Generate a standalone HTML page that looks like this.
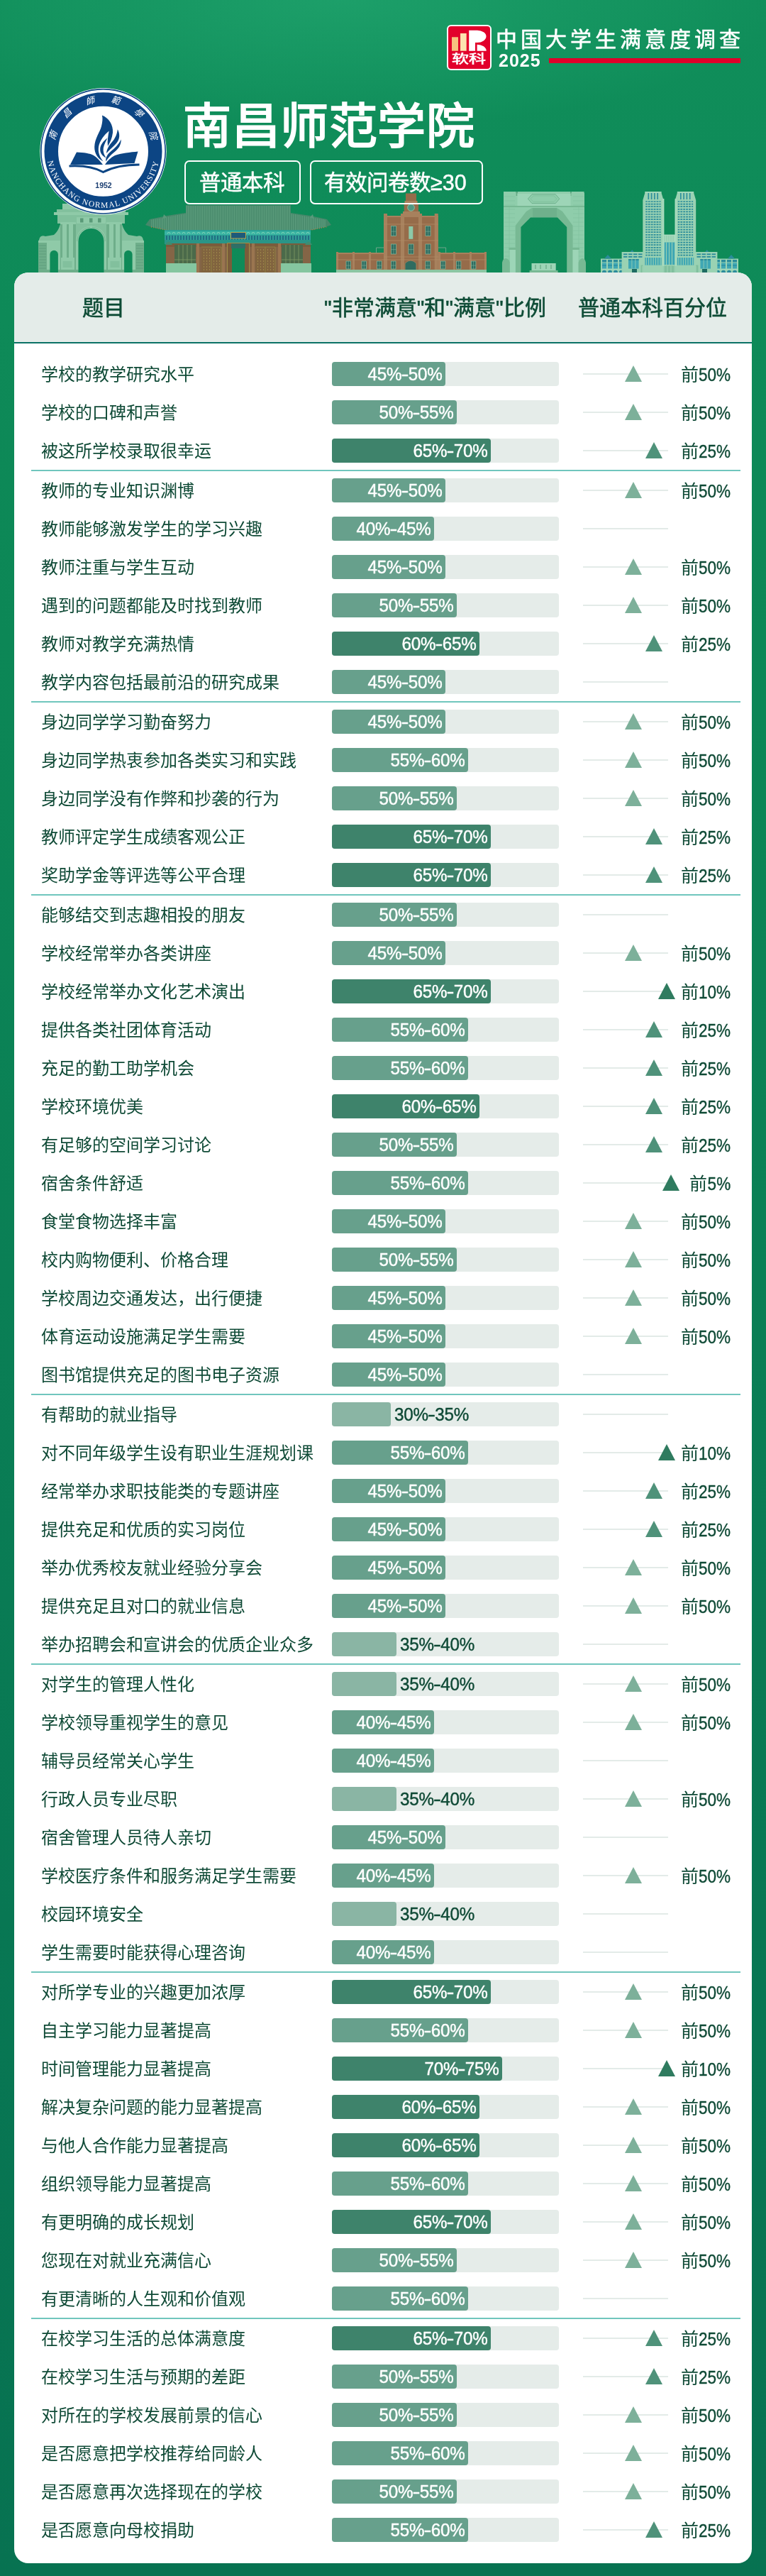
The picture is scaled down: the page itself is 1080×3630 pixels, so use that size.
<!DOCTYPE html>
<html lang="zh-CN"><head><meta charset="utf-8"><title>南昌师范学院</title>
<style>
*{margin:0;padding:0;box-sizing:border-box}
html,body{width:1080px;height:3630px;overflow:hidden}
.wrap{position:absolute;left:0;top:0;width:1080px;height:3630px;will-change:transform}
body{position:relative;font-family:"Liberation Sans",sans-serif;background:radial-gradient(ellipse 620px 180px at 480px 0px,rgba(44,180,124,0.45),rgba(44,180,124,0) 100%),linear-gradient(180deg,#108e5a 0px,#0e8a58 450px,#0c8756 900px,#0a7f55 1800px,#087753 2700px,#077251 3630px);}
.card{position:absolute;left:20px;top:384px;width:1040px;height:3228px;background:#fff;border-radius:20px;overflow:hidden}
.hd{position:absolute;left:20px;top:384px;width:1040px;height:98px;background:#e4ece9;border-radius:20px 20px 0 0}
.hdl{position:absolute;left:20px;top:482px;width:1040px;height:2px;background:#0b7266}
.ht{position:absolute;top:414px;font-size:30px;line-height:40px;font-weight:500;color:#0e4c36;-webkit-text-stroke:0.6px #0e4c36;white-space:nowrap}
.row{position:absolute;left:0;width:1080px;height:54px}
.lb{position:absolute;left:58px;top:11px;font-size:24px;line-height:34px;font-weight:500;color:#0f4a36;white-space:nowrap}
.trk{position:absolute;left:468px;top:10px;width:320px;height:34px;background:#e5ece9;border-radius:4px}
.fill{position:absolute;left:0;top:0;height:34px;border-radius:4px}
.fm{background:#67a08c} .fd{background:#3e836b} .fl{background:#8ab5a4}
.bt{position:absolute;top:0px;font-size:25.5px;line-height:34px;color:#fff;white-space:nowrap;-webkit-text-stroke:0.45px #fff;letter-spacing:-0.3px;transform:scaleX(0.95);transform-origin:100% 50%}
.bt.out{color:#0f4a36;-webkit-text-stroke:0.45px #0f4a36;transform-origin:0 50%}
.pl{position:absolute;left:822px;top:26px;width:120px;height:2px;background:#e3ebe8}
.tri{position:absolute;top:15px;width:0;height:0;border-left:12px solid transparent;border-right:12px solid transparent;border-bottom:23px solid #7db09a}
.tri.t25{border-bottom-color:#4f927a} .tri.t10{border-bottom-color:#2f7b5f}
.pt{position:absolute;right:50px;top:11px;font-size:25px;line-height:34px;color:#0f4a36;white-space:nowrap;font-weight:500} .pt .n{display:inline-block;transform:scaleX(0.9);transform-origin:100% 50%;-webkit-text-stroke:0.4px #0f4a36}
.q{font-weight:normal}
.hy{display:inline-block;transform:scaleX(1.35);margin:0 1px}
.sep{position:absolute;left:44px;width:1000px;height:2px;background:#70c6bd}
</style></head><body><div class="wrap">
<svg class="sky" width="1080" height="384" viewBox="0 0 1080 384" style="position:absolute;left:0;top:0"><defs><mask id="skyh" maskUnits="userSpaceOnUse" x="0" y="0" width="1080" height="384"><rect x="0" y="0" width="1080" height="384" fill="#fff"/><path d="M110.5 384 L110.5 340 A18 18 0 0 1 146.5 340 L146.5 384 Z" fill="#000"/><path d="M70.4 384 L70.4 358.5 A5.75 5.75 0 0 1 81.9 358.5 L81.9 384 Z" fill="#000"/><path d="M175.1 384 L175.1 358.5 A5.75 5.75 0 0 1 186.6 358.5 L186.6 384 Z" fill="#000"/><rect x="327" y="350" width="18" height="34" fill="#000" /><path d="M734.4 384 L734.4 320 L748 306.6 L786 306.6 L799.2 320 L799.2 384 Z" fill="#000"/></mask></defs><g mask="url(#skyh)"><rect x="88" y="287" width="81" height="8" fill="#8fcaa8" /><rect x="95" y="283" width="67" height="5" fill="#82c09d" /><rect x="80" y="295" width="97" height="5" fill="#82c09d" /><rect x="76" y="299" width="105" height="4" fill="#8fcaa8" /><rect x="81" y="303" width="95" height="12" fill="#82c09d" /><rect x="108" y="306" width="41" height="9" fill="#8fcaa8" /><rect x="113" y="307.5" width="4.5" height="6" fill="#5a9a78" /><rect x="126" y="307.5" width="4.5" height="6" fill="#5a9a78" /><rect x="138" y="307.5" width="4.5" height="6" fill="#5a9a78" /><path d="M54 341 L56 335 Q58 331 64 333 L76 331 Q82 326 85 316 L85 384 L54 384 Z" fill="#82c09d"/><path d="M203 341 L201 335 Q199 331 193 333 L181 331 Q175 326 172 316 L172 384 L203 384 Z" fill="#82c09d"/><rect x="54" y="339" width="31" height="3" fill="#8fcaa8" /><rect x="172.0" y="339" width="31" height="3" fill="#8fcaa8" /><rect x="54" y="342" width="12" height="42" fill="#6eae8a" /><rect x="191.0" y="342" width="12" height="42" fill="#6eae8a" /><path d="M55 346H65M192 346H202 M55 350H65M192 350H202 M55 354H65M192 354H202 M55 358H65M192 358H202 M55 362H65M192 362H202 M55 366H65M192 366H202 M55 370H65M192 370H202 M55 374H65M192 374H202 M55 378H65M192 378H202 M55 382H65M192 382H202" stroke="#5a9a78" stroke-width="0.8"/><rect x="66" y="342" width="19" height="42" fill="#8fcaa8" /><rect x="172.0" y="342" width="19" height="42" fill="#8fcaa8" /><rect x="85" y="315" width="22" height="69" fill="#6eae8a" /><rect x="150.0" y="315" width="22" height="69" fill="#6eae8a" /><rect x="88" y="315" width="6" height="50" fill="#8fcaa8" /><rect x="163.0" y="315" width="6" height="50" fill="#8fcaa8" /><rect x="97" y="315" width="6" height="50" fill="#8fcaa8" /><rect x="154.0" y="315" width="6" height="50" fill="#8fcaa8" /><rect x="85" y="313" width="22" height="3" fill="#8fcaa8" /><rect x="150.0" y="313" width="22" height="3" fill="#8fcaa8" /><rect x="86" y="363" width="19" height="21" fill="#8fcaa8" /><rect x="152.0" y="363" width="19" height="21" fill="#8fcaa8" /><rect x="88.5" y="368" width="13" height="9" fill="#82c09d" /><rect x="155.5" y="368" width="13" height="9" fill="#82c09d" /><rect x="107" y="315" width="43" height="30" fill="#82c09d" /><rect x="107" y="315" width="7" height="69" fill="#82c09d" /><rect x="143.0" y="315" width="7" height="69" fill="#82c09d" /><path d="M107 384 L107 340 A21.5 21.5 0 0 1 150 340 L150 384 L146.5 384 L146.5 340 A18 18 0 0 0 110.5 340 L110.5 384 Z" fill="#8fcaa8"/><path d="M108.8 340 A19.7 19.7 0 0 1 148.2 340" fill="none" stroke="#6eae8a" stroke-width="0.8"/><rect x="127" y="318" width="3" height="5" fill="#8fcaa8" /><rect x="54" y="380" width="149" height="4" fill="#6eae8a" /><path d="M262 289 L410 289 L410 325 L262 325 Z" fill="#46886a"/><path d="M262 300 Q236 303 211 309 L205 317 L212 319.5 L238 325.5 L434 325.5 L460 319.5 L467 317 L461 309 Q436 303 410 300 Z" fill="#46886a"/><path d="M263.2 290V324 M265.7 290V324 M268.2 290V324 M270.7 290V324 M273.2 290V324 M275.7 290V324 M278.2 290V324 M280.7 290V324 M283.2 290V324 M285.7 290V324 M288.2 290V324 M290.7 290V324 M293.2 290V324 M295.7 290V324 M298.2 290V324 M300.7 290V324 M303.2 290V324 M305.7 290V324 M308.2 290V324 M310.7 290V324 M313.2 290V324 M315.7 290V324 M318.2 290V324 M320.7 290V324 M323.2 290V324 M325.7 290V324 M328.2 290V324 M330.7 290V324 M333.2 290V324 M335.7 290V324 M338.2 290V324 M340.7 290V324 M343.2 290V324 M345.7 290V324 M348.2 290V324 M350.7 290V324 M353.2 290V324 M355.7 290V324 M358.2 290V324 M360.7 290V324 M363.2 290V324 M365.7 290V324 M368.2 290V324 M370.7 290V324 M373.2 290V324 M375.7 290V324 M378.2 290V324 M380.7 290V324 M383.2 290V324 M385.7 290V324 M388.2 290V324 M390.7 290V324 M393.2 290V324 M395.7 290V324 M398.2 290V324 M400.7 290V324 M403.2 290V324 M405.7 290V324 M408.2 290V324 M214.0 309.5V320.0 M216.6 309.0V320.6 M219.2 308.6V321.2 M221.8 308.1V321.8 M224.4 307.6V322.4 M227.0 307.2V323.0 M229.6 306.7V323.6 M232.2 306.3V324.0 M234.8 305.8V324.0 M237.4 305.3V324.0 M240.0 304.9V324.0 M242.6 304.4V324.0 M245.2 304.0V324.0 M247.8 303.5V324.0 M250.4 303.0V324.0 M253.0 302.6V324.0 M255.6 302.1V324.0 M258.2 301.7V324.0 M260.8 301.2V324.0 M458.0 309.5V320.0 M455.4 309.0V320.6 M452.8 308.6V321.2 M450.2 308.1V321.8 M447.6 307.6V322.4 M445.0 307.2V323.0 M442.4 306.7V323.6 M439.8 306.3V324.0 M437.2 305.8V324.0 M434.6 305.3V324.0 M432.0 304.9V324.0 M429.4 304.4V324.0 M426.8 304.0V324.0 M424.2 303.5V324.0 M421.6 303.0V324.0 M419.0 302.6V324.0 M416.4 302.1V324.0 M413.8 301.7V324.0 M411.2 301.2V324.0" stroke="#67a586" stroke-width="0.9"/><path d="M229.5 308 L231 302 L234 305 L234 307 Z M442.5 308 L441 302 L438 305 L438 307 Z" fill="#5a9a7b"/><path d="M213.0 320.0h1 M216.2 320.6h1 M219.4 321.2h1 M222.6 321.8h1 M225.8 322.5h1 M229.0 323.1h1 M232.2 323.7h1 M235.4 324.3h1 M238.6 325.0h1 M241.8 325.0h1 M245.0 325.0h1 M248.2 325.0h1 M251.4 325.0h1 M254.6 325.0h1 M257.8 325.0h1 M261.0 325.0h1 M264.2 325.0h1 M267.4 325.0h1 M270.6 325.0h1 M273.8 325.0h1 M277.0 325.0h1 M280.2 325.0h1 M283.4 325.0h1 M286.6 325.0h1 M289.8 325.0h1 M293.0 325.0h1 M296.2 325.0h1 M299.4 325.0h1 M302.6 325.0h1 M305.8 325.0h1 M309.0 325.0h1 M312.2 325.0h1 M315.4 325.0h1 M318.6 325.0h1 M321.8 325.0h1 M325.0 325.0h1 M328.2 325.0h1 M331.4 325.0h1 M334.6 325.0h1 M337.8 325.0h1 M341.0 325.0h1 M344.2 325.0h1 M347.4 325.0h1 M350.6 325.0h1 M353.8 325.0h1 M357.0 325.0h1 M360.2 325.0h1 M363.4 325.0h1 M366.6 325.0h1 M369.8 325.0h1 M373.0 325.0h1 M376.2 325.0h1 M379.4 325.0h1 M382.6 325.0h1 M385.8 325.0h1 M389.0 325.0h1 M392.2 325.0h1 M395.4 325.0h1 M398.6 325.0h1 M401.8 325.0h1 M405.0 325.0h1 M408.2 325.0h1 M411.4 325.0h1 M414.6 325.0h1 M417.8 325.0h1 M421.0 325.0h1 M424.2 325.0h1 M427.4 325.0h1 M430.6 325.0h1 M433.8 325.0h1 M437.0 324.2h1 M440.2 323.6h1 M443.4 323.0h1 M446.6 322.4h1 M449.8 321.8h1 M453.0 321.1h1 M456.2 320.5h1 M459.4 319.9h1" stroke="#c0783e" stroke-width="1.3"/><rect x="232" y="324" width="206" height="20" fill="#2c9f93" /><rect x="232" y="326" width="206" height="5" fill="#37b3a2" /><path d="M236 329.5a2 2 0 1 1 4 0 M243 329.5a2 2 0 1 1 4 0 M250 329.5a2 2 0 1 1 4 0 M257 329.5a2 2 0 1 1 4 0 M264 329.5a2 2 0 1 1 4 0 M271 329.5a2 2 0 1 1 4 0 M278 329.5a2 2 0 1 1 4 0 M285 329.5a2 2 0 1 1 4 0 M292 329.5a2 2 0 1 1 4 0 M299 329.5a2 2 0 1 1 4 0 M306 329.5a2 2 0 1 1 4 0 M313 329.5a2 2 0 1 1 4 0 M320 329.5a2 2 0 1 1 4 0 M327 329.5a2 2 0 1 1 4 0 M334 329.5a2 2 0 1 1 4 0 M341 329.5a2 2 0 1 1 4 0 M348 329.5a2 2 0 1 1 4 0 M355 329.5a2 2 0 1 1 4 0 M362 329.5a2 2 0 1 1 4 0 M369 329.5a2 2 0 1 1 4 0 M376 329.5a2 2 0 1 1 4 0 M383 329.5a2 2 0 1 1 4 0 M390 329.5a2 2 0 1 1 4 0 M397 329.5a2 2 0 1 1 4 0 M404 329.5a2 2 0 1 1 4 0 M411 329.5a2 2 0 1 1 4 0 M418 329.5a2 2 0 1 1 4 0 M425 329.5a2 2 0 1 1 4 0 M432 329.5a2 2 0 1 1 4 0" stroke="#8fd6b8" stroke-width="0.9" fill="none"/><rect x="232" y="332" width="206" height="6" fill="#1f6f82" /><path d="M233 332v6 M237 332v6 M241 332v6 M245 332v6 M249 332v6 M253 332v6 M257 332v6 M261 332v6 M265 332v6 M269 332v6 M273 332v6 M277 332v6 M281 332v6 M285 332v6 M289 332v6 M293 332v6 M297 332v6 M301 332v6 M305 332v6 M309 332v6 M313 332v6 M317 332v6 M321 332v6 M325 332v6 M329 332v6 M333 332v6 M337 332v6 M341 332v6 M345 332v6 M349 332v6 M353 332v6 M357 332v6 M361 332v6 M365 332v6 M369 332v6 M373 332v6 M377 332v6 M381 332v6 M385 332v6 M389 332v6 M393 332v6 M397 332v6 M401 332v6 M405 332v6 M409 332v6 M413 332v6 M417 332v6 M421 332v6 M425 332v6 M429 332v6 M433 332v6 M437 332v6" stroke="#39b1a1" stroke-width="1.4"/><rect x="232" y="338" width="206" height="6" fill="#2a9587" /><rect x="234" y="343" width="204" height="41" fill="#846546" /><rect x="234" y="343" width="204" height="5" fill="#7a5c3c" /><rect x="246" y="345" width="30" height="26" fill="#4b6a4a" /><rect x="397" y="345" width="30" height="26" fill="#4b6a4a" /><path d="M252 345v26 M258 345v26 M264 345v26 M270 345v26 M403 345v26 M409 345v26 M415 345v26 M421 345v26 M246 366h30M397 366h30" stroke="#7f9a66" stroke-width="0.8"/><rect x="234" y="371" width="43" height="13" fill="#85c6a0" /><rect x="396" y="371" width="43" height="13" fill="#85c6a0" /><path d="M233 345 Q238 336 243 345 Z M430 345 Q435 336 440 345 Z" fill="#3f8d70"/><rect x="277" y="343" width="4" height="41" fill="#9a7550" /><rect x="313" y="343" width="4" height="41" fill="#9a7550" /><rect x="355" y="343" width="4" height="41" fill="#9a7550" /><rect x="392" y="343" width="4" height="41" fill="#9a7550" /><rect x="284" y="348" width="28" height="36" fill="#81643f" /><rect x="360" y="348" width="28" height="36" fill="#81643f" /><path d="M284 348h28v36M360 348h28v36M298 348v36M374 348v36" stroke="#9a9444" stroke-width="0.6" fill="none"/><path d="M287 352h1 M291 352h1 M295 352h1 M301 352h1 M305 352h1 M309 352h1 M363 352h1 M367 352h1 M371 352h1 M377 352h1 M381 352h1 M385 352h1 M287 356h1 M291 356h1 M295 356h1 M301 356h1 M305 356h1 M309 356h1 M363 356h1 M367 356h1 M371 356h1 M377 356h1 M381 356h1 M385 356h1 M287 360h1 M291 360h1 M295 360h1 M301 360h1 M305 360h1 M309 360h1 M363 360h1 M367 360h1 M371 360h1 M377 360h1 M381 360h1 M385 360h1 M287 364h1 M291 364h1 M295 364h1 M301 364h1 M305 364h1 M309 364h1 M363 364h1 M367 364h1 M371 364h1 M377 364h1 M381 364h1 M385 364h1 M287 368h1 M291 368h1 M295 368h1 M301 368h1 M305 368h1 M309 368h1 M363 368h1 M367 368h1 M371 368h1 M377 368h1 M381 368h1 M385 368h1 M287 372h1 M291 372h1 M295 372h1 M301 372h1 M305 372h1 M309 372h1 M363 372h1 M367 372h1 M371 372h1 M377 372h1 M381 372h1 M385 372h1 M287 376h1 M291 376h1 M295 376h1 M301 376h1 M305 376h1 M309 376h1 M363 376h1 M367 376h1 M371 376h1 M377 376h1 M381 376h1 M385 376h1 M287 380h1 M291 380h1 M295 380h1 M301 380h1 M305 380h1 M309 380h1 M363 380h1 M367 380h1 M371 380h1 M377 380h1 M381 380h1 M385 380h1" stroke="#c2b25a" stroke-width="0.9"/><rect x="320" y="342" width="32" height="42" fill="#7a5c3a" /><path d="M320.5 384V342.5H351.5V384" stroke="#a89c4c" stroke-width="0.8" fill="none"/><rect x="326" y="343" width="20" height="7" fill="#2f6f66" /><rect x="325" y="327" width="22" height="9" fill="#1e5a7a" /><rect x="325.5" y="327.5" width="21" height="8.5" fill="none" stroke="#b8a648" stroke-width="1"/><rect x="474" y="357" width="212" height="27" fill="#966c4a" /><rect x="474" y="356" width="212" height="2" fill="#a7815d" /><rect x="474" y="355" width="3" height="29" fill="#a7815d" /><rect x="497" y="355" width="3" height="29" fill="#a7815d" /><rect x="520" y="355" width="3" height="29" fill="#a7815d" /><rect x="541" y="355" width="3" height="29" fill="#a7815d" /><rect x="618" y="355" width="3" height="29" fill="#a7815d" /><rect x="639" y="355" width="3" height="29" fill="#a7815d" /><rect x="662" y="355" width="3" height="29" fill="#a7815d" /><rect x="683" y="355" width="3" height="29" fill="#a7815d" /><rect x="541" y="305" width="77" height="79" fill="#966c4a" /><rect x="541" y="304" width="77" height="2" fill="#a7815d" /><rect x="541" y="301" width="5" height="83" fill="#a7815d" /><rect x="565" y="301" width="5" height="83" fill="#a7815d" /><rect x="590" y="301" width="5" height="83" fill="#a7815d" /><rect x="612.7" y="301" width="5" height="83" fill="#a7815d" /><path d="M541 316H618M541 339H618M541 362H618M474 366H686" stroke="#b08a64" stroke-width="0.8"/><rect x="569.7" y="286" width="20.3" height="18" fill="#966c4a" /><rect x="568" y="298" width="24" height="6" fill="#a7815d" /><rect x="572" y="272.5" width="15" height="13.5" fill="#966c4a" /><rect x="570.5" y="283" width="18" height="3" fill="#a7815d" /><circle cx="579.5" cy="292.5" r="4.8" fill="#4e9883" stroke="#8cc3a6" stroke-width="1"/><rect x="576.3" y="319" width="6" height="17.8" fill="#8cc9a8" /><rect x="551.5" y="318.5" width="7" height="14" fill="#2f6c60" /><rect x="551.5" y="318.5" width="7" height="14" fill="none" stroke="#86bda0" stroke-width="0.7"/><path d="M555.0 318.5v14M551.5 326.2h7" stroke="#86bda0" stroke-width="0.5"/><rect x="600" y="318.5" width="7" height="14" fill="#2f6c60" /><rect x="600" y="318.5" width="7" height="14" fill="none" stroke="#86bda0" stroke-width="0.7"/><path d="M603.5 318.5v14M600 326.2h7" stroke="#86bda0" stroke-width="0.5"/><rect x="551.5" y="344" width="7" height="14" fill="#2f6c60" /><rect x="551.5" y="344" width="7" height="14" fill="none" stroke="#86bda0" stroke-width="0.7"/><path d="M555.0 344v14M551.5 351.7h7" stroke="#86bda0" stroke-width="0.5"/><rect x="576" y="344" width="7" height="14" fill="#2f6c60" /><rect x="576" y="344" width="7" height="14" fill="none" stroke="#86bda0" stroke-width="0.7"/><path d="M579.5 344v14M576 351.7h7" stroke="#86bda0" stroke-width="0.5"/><rect x="600" y="344" width="7" height="14" fill="#2f6c60" /><rect x="600" y="344" width="7" height="14" fill="none" stroke="#86bda0" stroke-width="0.7"/><path d="M603.5 344v14M600 351.7h7" stroke="#86bda0" stroke-width="0.5"/><rect x="488" y="368" width="6.5" height="11" fill="#2f6c60" /><rect x="488" y="368" width="6.5" height="11" fill="none" stroke="#86bda0" stroke-width="0.7"/><path d="M491.25 368v11M488 374.05h6.5" stroke="#86bda0" stroke-width="0.5"/><rect x="510" y="368" width="6.5" height="11" fill="#2f6c60" /><rect x="510" y="368" width="6.5" height="11" fill="none" stroke="#86bda0" stroke-width="0.7"/><path d="M513.25 368v11M510 374.05h6.5" stroke="#86bda0" stroke-width="0.5"/><rect x="531.5" y="368" width="6.5" height="11" fill="#2f6c60" /><rect x="531.5" y="368" width="6.5" height="11" fill="none" stroke="#86bda0" stroke-width="0.7"/><path d="M534.75 368v11M531.5 374.05h6.5" stroke="#86bda0" stroke-width="0.5"/><rect x="551.5" y="368" width="6.5" height="11" fill="#2f6c60" /><rect x="551.5" y="368" width="6.5" height="11" fill="none" stroke="#86bda0" stroke-width="0.7"/><path d="M554.75 368v11M551.5 374.05h6.5" stroke="#86bda0" stroke-width="0.5"/><rect x="600" y="368" width="6.5" height="11" fill="#2f6c60" /><rect x="600" y="368" width="6.5" height="11" fill="none" stroke="#86bda0" stroke-width="0.7"/><path d="M603.25 368v11M600 374.05h6.5" stroke="#86bda0" stroke-width="0.5"/><rect x="621.4" y="368" width="6.5" height="11" fill="#2f6c60" /><rect x="621.4" y="368" width="6.5" height="11" fill="none" stroke="#86bda0" stroke-width="0.7"/><path d="M624.65 368v11M621.4 374.05h6.5" stroke="#86bda0" stroke-width="0.5"/><rect x="643.4" y="368" width="6.5" height="11" fill="#2f6c60" /><rect x="643.4" y="368" width="6.5" height="11" fill="none" stroke="#86bda0" stroke-width="0.7"/><path d="M646.65 368v11M643.4 374.05h6.5" stroke="#86bda0" stroke-width="0.5"/><rect x="664.4" y="368" width="6.5" height="11" fill="#2f6c60" /><rect x="664.4" y="368" width="6.5" height="11" fill="none" stroke="#86bda0" stroke-width="0.7"/><path d="M667.65 368v11M664.4 374.05h6.5" stroke="#86bda0" stroke-width="0.5"/><path d="M571 384 L571 371 Q579 363 587 371 L587 384 Z" fill="#2f6c60" stroke="#a07e58" stroke-width="1"/><path d="M530.5 356.5V349H541M628.6 356.5V349H618" stroke="#6fa58a" stroke-width="1" fill="none"/><rect x="474" y="380" width="212" height="4" fill="#8cc6a3" /><rect x="710" y="272" width="114" height="112" fill="#8fcdab" /><rect x="710" y="270" width="17.7" height="3" fill="#8fcdab" /><rect x="729.5" y="270" width="75" height="3" fill="#8fcdab" /><rect x="805.4" y="270" width="18.2" height="3" fill="#8fcdab" /><rect x="727.7" y="270" width="1.8" height="6" fill="#66a884" /><rect x="804.3" y="270" width="1.1" height="6" fill="#66a884" /><rect x="729.5" y="273" width="75" height="18" fill="#9dd5b7" /><path d="M744.4 280.2 L750 273.8 L783.2 273.8 L788.8 280.2 L783.2 286.6 L750 286.6 Z" fill="#8fcdab" stroke="#66a884" stroke-width="0.8"/><path d="M748 280.2 L752 276 L781 276 L785 280.2 L781 284.4 L752 284.4 Z" fill="none" stroke="#78b994" stroke-width="0.6"/><rect x="710" y="290" width="114" height="2" fill="#78b994" /><path d="M726.6 384 L726.6 318 L742 298 L750 293 L785 293 L793 298 L807.6 318 L807.6 384 Z" fill="#78b994"/><path d="M751 293 L785 293 L785 306.6 L751 306.6 Z" fill="#6fb08c"/><path d="M711 277H726M808 277H823 M711 283H726M808 283H823 M711 289H726M808 289H823 M711 295H726M808 295H823 M711 301H726M808 301H823 M711 307H726M808 307H823 M711 313H726M808 313H823 M711 319H726M808 319H823 M711 325H726M808 325H823 M711 331H726M808 331H823 M711 337H726M808 337H823 M711 343H726M808 343H823 M711 349H726M808 349H823 M711 355H726M808 355H823 M711 361H726M808 361H823 M711 367H726M808 367H823 M711 373H726M808 373H823 M711 379H726M808 379H823 M718 292V384 M816 292V384" stroke="#82c3a0" stroke-width="0.7"/><rect x="718.8" y="351" width="8" height="33" fill="#9dd5b7" /><rect x="807.6" y="351" width="8" height="33" fill="#9dd5b7" /><rect x="717.5" y="349" width="10.5" height="3" fill="#78b994" /><rect x="806.5" y="349" width="10.5" height="3" fill="#78b994" /><path d="M708 384 L708 370 Q709 364 713 364 Q718 365 718.8 370 L718.8 384 Z M815.6 384 L815.6 370 Q817 365 821 364 Q825 364 826 370 L826 384 Z" fill="#78b994"/><rect x="847" y="364.5" width="33" height="19.5" fill="#9ad2b3" /><rect x="1008" y="364.5" width="33" height="19.5" fill="#9ad2b3" /><path d="M852 364.5 L857 359 L862 364.5 Z M1036 364.5 L1031 359 L1026 364.5 Z" fill="#2b8c9b"/><rect x="849" y="366" width="6" height="3.5" fill="#2b8c9b" /><rect x="1033" y="366" width="6" height="3.5" fill="#2b8c9b" /><rect x="849" y="370.5" width="6" height="8" fill="#3fa7b4" /><rect x="1033" y="370.5" width="6" height="8" fill="#3fa7b4" /><rect x="849" y="373.5" width="6" height="1.2" fill="#2b8c9b" /><rect x="1033" y="373.5" width="6" height="1.2" fill="#2b8c9b" /><rect x="857" y="366" width="6" height="3.5" fill="#2b8c9b" /><rect x="1025" y="366" width="6" height="3.5" fill="#2b8c9b" /><rect x="857" y="370.5" width="6" height="8" fill="#3fa7b4" /><rect x="1025" y="370.5" width="6" height="8" fill="#3fa7b4" /><rect x="857" y="373.5" width="6" height="1.2" fill="#2b8c9b" /><rect x="1025" y="373.5" width="6" height="1.2" fill="#2b8c9b" /><rect x="865" y="366" width="6" height="3.5" fill="#2b8c9b" /><rect x="1017" y="366" width="6" height="3.5" fill="#2b8c9b" /><rect x="865" y="370.5" width="6" height="8" fill="#3fa7b4" /><rect x="1017" y="370.5" width="6" height="8" fill="#3fa7b4" /><rect x="865" y="373.5" width="6" height="1.2" fill="#2b8c9b" /><rect x="1017" y="373.5" width="6" height="1.2" fill="#2b8c9b" /><rect x="873" y="366" width="6" height="3.5" fill="#2b8c9b" /><rect x="1009" y="366" width="6" height="3.5" fill="#2b8c9b" /><rect x="873" y="370.5" width="6" height="8" fill="#3fa7b4" /><rect x="1009" y="370.5" width="6" height="8" fill="#3fa7b4" /><rect x="873" y="373.5" width="6" height="1.2" fill="#2b8c9b" /><rect x="1009" y="373.5" width="6" height="1.2" fill="#2b8c9b" /><path d="M849 384a3 3.5 0 0 1 6 0Z M1033 384a3 3.5 0 0 1 6 0Z M857 384a3 3.5 0 0 1 6 0Z M1025 384a3 3.5 0 0 1 6 0Z M865 384a3 3.5 0 0 1 6 0Z M1017 384a3 3.5 0 0 1 6 0Z M873 384a3 3.5 0 0 1 6 0Z M1009 384a3 3.5 0 0 1 6 0Z" fill="#2b8c9b"/><rect x="847" y="379.5" width="33" height="1" fill="#a8dbbf" /><rect x="1008" y="379.5" width="33" height="1" fill="#a8dbbf" /><rect x="879.7" y="365" width="6.5" height="19" fill="#7fa894" /><rect x="1001.8" y="365" width="6.5" height="19" fill="#7fa894" /><rect x="876.6" y="355" width="30.4" height="29" fill="#9ad2b3" /><rect x="981.0" y="355" width="30.4" height="29" fill="#9ad2b3" /><path d="M888.6 355 L891.2 352 L893.8 355 Z M999.4 355 L996.8 352 L994.2 355 Z" fill="#2b8c9b"/><rect x="879" y="357.4" width="5.5" height="1.8" fill="#2b8c9b" /><rect x="1003.5" y="357.4" width="5.5" height="1.8" fill="#2b8c9b" /><rect x="879" y="361" width="5.5" height="1.8" fill="#2b8c9b" /><rect x="1003.5" y="361" width="5.5" height="1.8" fill="#2b8c9b" /><rect x="886" y="357.4" width="5.5" height="1.8" fill="#2b8c9b" /><rect x="996.5" y="357.4" width="5.5" height="1.8" fill="#2b8c9b" /><rect x="886" y="361" width="5.5" height="1.8" fill="#2b8c9b" /><rect x="996.5" y="361" width="5.5" height="1.8" fill="#2b8c9b" /><rect x="893" y="357.4" width="5.5" height="1.8" fill="#2b8c9b" /><rect x="989.5" y="357.4" width="5.5" height="1.8" fill="#2b8c9b" /><rect x="893" y="361" width="5.5" height="1.8" fill="#2b8c9b" /><rect x="989.5" y="361" width="5.5" height="1.8" fill="#2b8c9b" /><rect x="900" y="357.4" width="5.5" height="1.8" fill="#2b8c9b" /><rect x="982.5" y="357.4" width="5.5" height="1.8" fill="#2b8c9b" /><rect x="900" y="361" width="5.5" height="1.8" fill="#2b8c9b" /><rect x="982.5" y="361" width="5.5" height="1.8" fill="#2b8c9b" /><rect x="886" y="365" width="14.6" height="13.6" fill="#3fa7b4" /><rect x="987.4" y="365" width="14.6" height="13.6" fill="#3fa7b4" /><rect x="886" y="365" width="14.6" height="2" fill="#2b8c9b" /><rect x="987.4" y="365" width="14.6" height="2" fill="#2b8c9b" /><rect x="890.5" y="365" width="0.8" height="13.6" fill="#9ad2b3" /><rect x="996.7" y="365" width="0.8" height="13.6" fill="#9ad2b3" /><rect x="895.5" y="365" width="0.8" height="13.6" fill="#9ad2b3" /><rect x="991.7" y="365" width="0.8" height="13.6" fill="#9ad2b3" /><rect x="891" y="379" width="7" height="5" fill="#1d6b62" /><rect x="990" y="379" width="7" height="5" fill="#1d6b62" /><rect x="903.5" y="373.6" width="81" height="10.4" fill="#80bf9e" /><path d="M906 375v9 M911 375v9 M916 375v9 M921 375v9 M926 375v9 M931 375v9 M936 375v9 M941 375v9 M946 375v9 M951 375v9 M956 375v9 M961 375v9 M966 375v9 M971 375v9 M976 375v9 M981 375v9" stroke="#9ad2b3" stroke-width="1.2"/><rect x="934.8" y="330.5" width="18" height="44" fill="#9ad2b3" /><rect x="935.5" y="331" width="16.6" height="9.5" fill="#a8dbbf" /><path d="M937 332v8 M940 332v8 M943 332v8 M946 332v8 M949 332v8" stroke="#80bf9e" stroke-width="0.8"/><rect x="936.5" y="341.5" width="15" height="31.5" fill="#3fa7b4" /><path d="M939.5 341.5v31.5 M943.5 341.5v31.5 M947.5 341.5v31.5" stroke="#9ad2b3" stroke-width="1"/><path d="M906.3 384 L906.3 282 L909.8 270.2 L932.1 270.2 L935.6 282 L935.6 384 Z" fill="#9ad2b3"/><rect x="909.3" y="270" width="23.300000000000068" height="1.5" fill="#a8dbbf" /><path d="M914.3 272v9 M918.6 272v9 M922.9 272v9 M927.2 272v9" stroke="#2b8c9b" stroke-width="1.6"/><path d="M910.3 284.0H931.6 M910.3 287.6H931.6 M910.3 291.2H931.6 M910.3 294.8H931.6 M910.3 298.4H931.6 M910.3 302.0H931.6 M910.3 305.6H931.6 M910.3 309.2H931.6 M910.3 312.8H931.6 M910.3 316.4H931.6 M910.3 320.0H931.6 M910.3 323.6H931.6 M910.3 327.2H931.6 M910.3 330.8H931.6 M910.3 334.4H931.6 M910.3 338.0H931.6 M910.3 341.6H931.6 M910.3 345.2H931.6 M910.3 348.8H931.6 M910.3 352.4H931.6 M910.3 356.0H931.6 M910.3 359.6H931.6" stroke="#2b8c9b" stroke-width="1.7"/><path d="M913.3 283V363 M917.2 283V363 M921.1 283V363 M925.0 283V363 M928.9 283V363 M932.8 283V363" stroke="#9ad2b3" stroke-width="1.1"/><rect x="909.3" y="363" width="23.300000000000068" height="10.6" fill="#3fa7b4" /><path d="M911.3 363v10.6 M914.6 363v10.6 M917.9 363v10.6 M921.2 363v10.6 M924.5 363v10.6 M927.8 363v10.6 M931.1 363v10.6" stroke="#9ad2b3" stroke-width="1"/><path d="M951.8 384 L951.8 282 L955.3 270.2 L977.7 270.2 L981.2 282 L981.2 384 Z" fill="#9ad2b3"/><rect x="954.8" y="270" width="23.40000000000009" height="1.5" fill="#a8dbbf" /><path d="M959.8 272v9 M964.1 272v9 M968.4 272v9 M972.7 272v9" stroke="#2b8c9b" stroke-width="1.6"/><path d="M955.8 284.0H977.2 M955.8 287.6H977.2 M955.8 291.2H977.2 M955.8 294.8H977.2 M955.8 298.4H977.2 M955.8 302.0H977.2 M955.8 305.6H977.2 M955.8 309.2H977.2 M955.8 312.8H977.2 M955.8 316.4H977.2 M955.8 320.0H977.2 M955.8 323.6H977.2 M955.8 327.2H977.2 M955.8 330.8H977.2 M955.8 334.4H977.2 M955.8 338.0H977.2 M955.8 341.6H977.2 M955.8 345.2H977.2 M955.8 348.8H977.2 M955.8 352.4H977.2 M955.8 356.0H977.2 M955.8 359.6H977.2" stroke="#2b8c9b" stroke-width="1.7"/><path d="M958.8 283V363 M962.7 283V363 M966.6 283V363 M970.5 283V363 M974.4 283V363 M978.3 283V363" stroke="#9ad2b3" stroke-width="1.1"/><rect x="954.8" y="363" width="23.40000000000009" height="10.6" fill="#3fa7b4" /><path d="M956.8 363v10.6 M960.1 363v10.6 M963.4 363v10.6 M966.7 363v10.6 M970.0 363v10.6 M973.3 363v10.6 M976.6 363v10.6" stroke="#9ad2b3" stroke-width="1"/><rect x="934" y="280" width="2.4" height="95" fill="#a8dbbf" /><rect x="951.6" y="280" width="2.4" height="95" fill="#a8dbbf" /></g><rect x="749.5" y="371" width="34.2" height="10" fill="#9dd5b7" /><path d="M755 373v6M762 373v6M770 373v6M777 373v6" stroke="#66a884" stroke-width="1.2"/><rect x="746.6" y="381" width="40" height="3" fill="#78b994" /></svg><svg width="192" height="192" viewBox="50 118 192 192" style="position:absolute;left:50px;top:118px"><circle cx="145.5" cy="213.3" r="89.2" fill="#fff"/><circle cx="145.5" cy="213.3" r="87.7" fill="none" stroke="#0c4584" stroke-width="1.6"/><circle cx="145.5" cy="213.3" r="73.25" fill="none" stroke="#0c4584" stroke-width="19.5"/><text x="0" y="0" transform="translate(75.60,190.59) rotate(-72.0)" font-family="Liberation Serif,serif" font-size="12.5" font-weight="300" fill="#fff" text-anchor="middle" dominant-baseline="central" font-style="italic">南</text><text x="0" y="0" transform="translate(95.19,159.72) rotate(-43.2)" font-family="Liberation Serif,serif" font-size="12.5" font-weight="300" fill="#fff" text-anchor="middle" dominant-baseline="central" font-style="italic">昌</text><text x="0" y="0" transform="translate(127.22,142.11) rotate(-14.4)" font-family="Liberation Serif,serif" font-size="12.5" font-weight="300" fill="#fff" text-anchor="middle" dominant-baseline="central" font-style="italic">師</text><text x="0" y="0" transform="translate(163.78,142.11) rotate(14.4)" font-family="Liberation Serif,serif" font-size="12.5" font-weight="300" fill="#fff" text-anchor="middle" dominant-baseline="central" font-style="italic">範</text><text x="0" y="0" transform="translate(195.81,159.72) rotate(43.2)" font-family="Liberation Serif,serif" font-size="12.5" font-weight="300" fill="#fff" text-anchor="middle" dominant-baseline="central" font-style="italic">學</text><text x="0" y="0" transform="translate(215.40,190.59) rotate(72.0)" font-family="Liberation Serif,serif" font-size="12.5" font-weight="300" fill="#fff" text-anchor="middle" dominant-baseline="central" font-style="italic">院</text><path id="earc" d="M66.98 225.74 A79.5 79.5 0 0 0 224.02 225.74" fill="none"/><text font-family="Liberation Serif,serif" font-size="11.5" fill="#fff" letter-spacing="1.2"><textPath href="#earc" startOffset="50%" text-anchor="middle">NANCHANG NORMAL UNIVERSITY</textPath></text><path d="M143.9 162.6 C153 166 160 176 159 187 C158 195 155 201 152 206 C151 199 152.5 191 153.7 184.5 C147 190 140.5 198 139 207 C138 215 140.5 221 145.5 227.5 C138 223.5 133 216 133.2 207 C133.5 195 141 186 143 178 C144.5 172 145 167 143.9 162.6 Z" fill="#0c4584"/><path d="M151.5 194.5 C146 198.5 141.5 204 141.2 210 C141 216 144.5 220 149.5 222.5 C146.5 218 145 213.5 145.8 208.5 C146.8 203 149.5 199 151.5 194.5 Z" fill="#0c4584"/><path d="M165.8 182.2 C169.5 189 169 196 164 202 C160 207 154 211 150 216 C150.5 210 154 204.5 158 200 C162 195.5 165 189.5 165.8 182.2 Z" fill="#0c4584"/><path d="M170.7 196.5 C171 204 167 210 161 214.5 C156 218.5 152 222.5 149.5 227.5 C148.5 222.5 151 218 155.5 214 C161.5 209 167 204 170.7 196.5 Z" fill="#0c4584"/><path d="M108 214.5 C118 215 127 216 132 219 C137 222 141 227 145 232 L99 232 Z" fill="#0c4584"/><path d="M194.5 213.5 C184 214.5 170 216 162 219 C156 222 152 226 148 232 L189.5 230 Z" fill="#0c4584"/><path d="M97.5 234 C115 233 132 235 145.5 242.5 C160 235 178 232 196.5 232" fill="none" stroke="#0c4584" stroke-width="3"/><text x="146.0" y="265" font-family="Liberation Sans,sans-serif" font-weight="bold" font-size="10.5" fill="#1c3f72" text-anchor="middle">1952</text></svg><div style="position:absolute;left:630px;top:35px;width:63px;height:64px;background:#e2002b;border:2px solid #fff;border-radius:6px;overflow:hidden">
<svg width="59" height="60" viewBox="632 37 59 60" style="position:absolute;left:0;top:0">
<rect x="637" y="52.3" width="9" height="19.4" fill="#f7c27f"/>
<rect x="649" y="47" width="8.7" height="24.7" fill="#fde3b0"/>
<path d="M661.2 42.7 H673 A12.5 8.6 0 0 1 673 59.9 H670 V71.7 H661.2 Z" fill="#fff"/>
<path d="M672.6 62.7 A13 9 0 0 1 685.7 71.7 H672.6 Z" fill="#fff"/>
</svg>
<div style="position:absolute;left:3px;top:36px;width:52px;text-align:center;font-size:20px;line-height:20px;font-weight:bold;color:#fff;letter-spacing:0.5px;text-indent:0.5px;transform:scale(1.2,0.84);white-space:nowrap">软科</div>
</div><div style="position:absolute;left:699px;top:36px;font-size:30px;line-height:40px;font-weight:500;color:#fff;letter-spacing:5px;white-space:nowrap;-webkit-text-stroke:0.6px #fff">中国大学生满意度调查</div>
<div style="position:absolute;left:703px;top:70px;font-size:25px;line-height:30px;font-weight:bold;color:#fff;letter-spacing:1px;white-space:nowrap">2025</div>
<div style="position:absolute;left:774px;top:82px;width:270px;height:7px;background:#e0002a"></div><div style="position:absolute;left:258px;top:130px;font-size:68px;line-height:96px;letter-spacing:0.5px;font-weight:bold;color:#fff;white-space:nowrap">南昌师范学院</div>
<div style="position:absolute;left:260px;top:226px;width:164px;height:62px;border:2px solid #fff;border-radius:7px"></div>
<div style="position:absolute;left:281px;top:237px;font-size:30.5px;line-height:40px;font-weight:500;color:#fff;white-space:nowrap;-webkit-text-stroke:0.5px #fff">普通本科</div>
<div style="position:absolute;left:437px;top:226px;width:244px;height:62px;border:2px solid #fff;border-radius:7px"></div>
<div style="position:absolute;left:457px;top:237px;font-size:30.5px;line-height:40px;font-weight:500;color:#fff;white-space:nowrap;-webkit-text-stroke:0.5px #fff">有效问卷数≥30</div>
<div class="card"></div>
<div class="hd"></div><div class="hdl"></div>
<div class="ht" style="left:116px">题目</div>
<div class="ht" style="left:457px"><span class="q">"</span>非常满意<span class="q">"</span>和<span class="q">"</span>满意<span class="q">"</span>比例</div>
<div class="ht" style="left:815px">普通本科百分位</div>
<div class="row" style="top:500px"><div class="lb">学校的教学研究水平</div><div class="trk"><div class="fill fm" style="width:160px"></div><div class="bt" style="right:165px">45%<span class="hy">-</span>50%</div></div><div class="pl"></div><div class="tri t50" style="left:881.0px"></div><div class="pt">前<span class="n" style="margin-left:-5.0px">50%</span></div></div><div class="row" style="top:554px"><div class="lb">学校的口碑和声誉</div><div class="trk"><div class="fill fm" style="width:176px"></div><div class="bt" style="right:149px">50%<span class="hy">-</span>55%</div></div><div class="pl"></div><div class="tri t50" style="left:881.0px"></div><div class="pt">前<span class="n" style="margin-left:-5.0px">50%</span></div></div><div class="row" style="top:608px"><div class="lb">被这所学校录取很幸运</div><div class="trk"><div class="fill fd" style="width:224px"></div><div class="bt" style="right:101px">65%<span class="hy">-</span>70%</div></div><div class="pl"></div><div class="tri t25" style="left:910.4px"></div><div class="pt">前<span class="n" style="margin-left:-5.0px">25%</span></div></div><div class="sep" style="top:662px"></div><div class="row" style="top:664px"><div class="lb">教师的专业知识渊博</div><div class="trk"><div class="fill fm" style="width:160px"></div><div class="bt" style="right:165px">45%<span class="hy">-</span>50%</div></div><div class="pl"></div><div class="tri t50" style="left:881.0px"></div><div class="pt">前<span class="n" style="margin-left:-5.0px">50%</span></div></div><div class="row" style="top:718px"><div class="lb">教师能够激发学生的学习兴趣</div><div class="trk"><div class="fill fm" style="width:144px"></div><div class="bt" style="right:181px">40%<span class="hy">-</span>45%</div></div><div class="pl"></div></div><div class="row" style="top:772px"><div class="lb">教师注重与学生互动</div><div class="trk"><div class="fill fm" style="width:160px"></div><div class="bt" style="right:165px">45%<span class="hy">-</span>50%</div></div><div class="pl"></div><div class="tri t50" style="left:881.0px"></div><div class="pt">前<span class="n" style="margin-left:-5.0px">50%</span></div></div><div class="row" style="top:826px"><div class="lb">遇到的问题都能及时找到教师</div><div class="trk"><div class="fill fm" style="width:176px"></div><div class="bt" style="right:149px">50%<span class="hy">-</span>55%</div></div><div class="pl"></div><div class="tri t50" style="left:881.0px"></div><div class="pt">前<span class="n" style="margin-left:-5.0px">50%</span></div></div><div class="row" style="top:880px"><div class="lb">教师对教学充满热情</div><div class="trk"><div class="fill fd" style="width:208px"></div><div class="bt" style="right:117px">60%<span class="hy">-</span>65%</div></div><div class="pl"></div><div class="tri t25" style="left:910.4px"></div><div class="pt">前<span class="n" style="margin-left:-5.0px">25%</span></div></div><div class="row" style="top:934px"><div class="lb">教学内容包括最前沿的研究成果</div><div class="trk"><div class="fill fm" style="width:160px"></div><div class="bt" style="right:165px">45%<span class="hy">-</span>50%</div></div><div class="pl"></div></div><div class="sep" style="top:988px"></div><div class="row" style="top:990px"><div class="lb">身边同学学习勤奋努力</div><div class="trk"><div class="fill fm" style="width:160px"></div><div class="bt" style="right:165px">45%<span class="hy">-</span>50%</div></div><div class="pl"></div><div class="tri t50" style="left:881.0px"></div><div class="pt">前<span class="n" style="margin-left:-5.0px">50%</span></div></div><div class="row" style="top:1044px"><div class="lb">身边同学热衷参加各类实习和实践</div><div class="trk"><div class="fill fm" style="width:192px"></div><div class="bt" style="right:133px">55%<span class="hy">-</span>60%</div></div><div class="pl"></div><div class="tri t50" style="left:881.0px"></div><div class="pt">前<span class="n" style="margin-left:-5.0px">50%</span></div></div><div class="row" style="top:1098px"><div class="lb">身边同学没有作弊和抄袭的行为</div><div class="trk"><div class="fill fm" style="width:176px"></div><div class="bt" style="right:149px">50%<span class="hy">-</span>55%</div></div><div class="pl"></div><div class="tri t50" style="left:881.0px"></div><div class="pt">前<span class="n" style="margin-left:-5.0px">50%</span></div></div><div class="row" style="top:1152px"><div class="lb">教师评定学生成绩客观公正</div><div class="trk"><div class="fill fd" style="width:224px"></div><div class="bt" style="right:101px">65%<span class="hy">-</span>70%</div></div><div class="pl"></div><div class="tri t25" style="left:910.4px"></div><div class="pt">前<span class="n" style="margin-left:-5.0px">25%</span></div></div><div class="row" style="top:1206px"><div class="lb">奖助学金等评选等公平合理</div><div class="trk"><div class="fill fd" style="width:224px"></div><div class="bt" style="right:101px">65%<span class="hy">-</span>70%</div></div><div class="pl"></div><div class="tri t25" style="left:910.4px"></div><div class="pt">前<span class="n" style="margin-left:-5.0px">25%</span></div></div><div class="sep" style="top:1260px"></div><div class="row" style="top:1262px"><div class="lb">能够结交到志趣相投的朋友</div><div class="trk"><div class="fill fm" style="width:176px"></div><div class="bt" style="right:149px">50%<span class="hy">-</span>55%</div></div><div class="pl"></div></div><div class="row" style="top:1316px"><div class="lb">学校经常举办各类讲座</div><div class="trk"><div class="fill fm" style="width:160px"></div><div class="bt" style="right:165px">45%<span class="hy">-</span>50%</div></div><div class="pl"></div><div class="tri t50" style="left:881.0px"></div><div class="pt">前<span class="n" style="margin-left:-5.0px">50%</span></div></div><div class="row" style="top:1370px"><div class="lb">学校经常举办文化艺术演出</div><div class="trk"><div class="fill fd" style="width:224px"></div><div class="bt" style="right:101px">65%<span class="hy">-</span>70%</div></div><div class="pl"></div><div class="tri t10" style="left:928.0px"></div><div class="pt">前<span class="n" style="margin-left:-5.0px">10%</span></div></div><div class="row" style="top:1424px"><div class="lb">提供各类社团体育活动</div><div class="trk"><div class="fill fm" style="width:192px"></div><div class="bt" style="right:133px">55%<span class="hy">-</span>60%</div></div><div class="pl"></div><div class="tri t25" style="left:910.4px"></div><div class="pt">前<span class="n" style="margin-left:-5.0px">25%</span></div></div><div class="row" style="top:1478px"><div class="lb">充足的勤工助学机会</div><div class="trk"><div class="fill fm" style="width:192px"></div><div class="bt" style="right:133px">55%<span class="hy">-</span>60%</div></div><div class="pl"></div><div class="tri t25" style="left:910.4px"></div><div class="pt">前<span class="n" style="margin-left:-5.0px">25%</span></div></div><div class="row" style="top:1532px"><div class="lb">学校环境优美</div><div class="trk"><div class="fill fd" style="width:208px"></div><div class="bt" style="right:117px">60%<span class="hy">-</span>65%</div></div><div class="pl"></div><div class="tri t25" style="left:910.4px"></div><div class="pt">前<span class="n" style="margin-left:-5.0px">25%</span></div></div><div class="row" style="top:1586px"><div class="lb">有足够的空间学习讨论</div><div class="trk"><div class="fill fm" style="width:176px"></div><div class="bt" style="right:149px">50%<span class="hy">-</span>55%</div></div><div class="pl"></div><div class="tri t25" style="left:910.4px"></div><div class="pt">前<span class="n" style="margin-left:-5.0px">25%</span></div></div><div class="row" style="top:1640px"><div class="lb">宿舍条件舒适</div><div class="trk"><div class="fill fm" style="width:192px"></div><div class="bt" style="right:133px">55%<span class="hy">-</span>60%</div></div><div class="pl"></div><div class="tri t10" style="left:933.9px"></div><div class="pt">前<span class="n" style="margin-left:-3.6px">5%</span></div></div><div class="row" style="top:1694px"><div class="lb">食堂食物选择丰富</div><div class="trk"><div class="fill fm" style="width:160px"></div><div class="bt" style="right:165px">45%<span class="hy">-</span>50%</div></div><div class="pl"></div><div class="tri t50" style="left:881.0px"></div><div class="pt">前<span class="n" style="margin-left:-5.0px">50%</span></div></div><div class="row" style="top:1748px"><div class="lb">校内购物便利、价格合理</div><div class="trk"><div class="fill fm" style="width:176px"></div><div class="bt" style="right:149px">50%<span class="hy">-</span>55%</div></div><div class="pl"></div><div class="tri t50" style="left:881.0px"></div><div class="pt">前<span class="n" style="margin-left:-5.0px">50%</span></div></div><div class="row" style="top:1802px"><div class="lb">学校周边交通发达，出行便捷</div><div class="trk"><div class="fill fm" style="width:160px"></div><div class="bt" style="right:165px">45%<span class="hy">-</span>50%</div></div><div class="pl"></div><div class="tri t50" style="left:881.0px"></div><div class="pt">前<span class="n" style="margin-left:-5.0px">50%</span></div></div><div class="row" style="top:1856px"><div class="lb">体育运动设施满足学生需要</div><div class="trk"><div class="fill fm" style="width:160px"></div><div class="bt" style="right:165px">45%<span class="hy">-</span>50%</div></div><div class="pl"></div><div class="tri t50" style="left:881.0px"></div><div class="pt">前<span class="n" style="margin-left:-5.0px">50%</span></div></div><div class="row" style="top:1910px"><div class="lb">图书馆提供充足的图书电子资源</div><div class="trk"><div class="fill fm" style="width:160px"></div><div class="bt" style="right:165px">45%<span class="hy">-</span>50%</div></div><div class="pl"></div></div><div class="sep" style="top:1964px"></div><div class="row" style="top:1966px"><div class="lb">有帮助的就业指导</div><div class="trk"><div class="fill fl" style="width:83px"></div><div class="bt out" style="left:88px">30%<span class="hy">-</span>35%</div></div><div class="pl"></div></div><div class="row" style="top:2020px"><div class="lb">对不同年级学生设有职业生涯规划课</div><div class="trk"><div class="fill fm" style="width:192px"></div><div class="bt" style="right:133px">55%<span class="hy">-</span>60%</div></div><div class="pl"></div><div class="tri t10" style="left:928.0px"></div><div class="pt">前<span class="n" style="margin-left:-5.0px">10%</span></div></div><div class="row" style="top:2074px"><div class="lb">经常举办求职技能类的专题讲座</div><div class="trk"><div class="fill fm" style="width:160px"></div><div class="bt" style="right:165px">45%<span class="hy">-</span>50%</div></div><div class="pl"></div><div class="tri t25" style="left:910.4px"></div><div class="pt">前<span class="n" style="margin-left:-5.0px">25%</span></div></div><div class="row" style="top:2128px"><div class="lb">提供充足和优质的实习岗位</div><div class="trk"><div class="fill fm" style="width:160px"></div><div class="bt" style="right:165px">45%<span class="hy">-</span>50%</div></div><div class="pl"></div><div class="tri t25" style="left:910.4px"></div><div class="pt">前<span class="n" style="margin-left:-5.0px">25%</span></div></div><div class="row" style="top:2182px"><div class="lb">举办优秀校友就业经验分享会</div><div class="trk"><div class="fill fm" style="width:160px"></div><div class="bt" style="right:165px">45%<span class="hy">-</span>50%</div></div><div class="pl"></div><div class="tri t50" style="left:881.0px"></div><div class="pt">前<span class="n" style="margin-left:-5.0px">50%</span></div></div><div class="row" style="top:2236px"><div class="lb">提供充足且对口的就业信息</div><div class="trk"><div class="fill fm" style="width:160px"></div><div class="bt" style="right:165px">45%<span class="hy">-</span>50%</div></div><div class="pl"></div><div class="tri t50" style="left:881.0px"></div><div class="pt">前<span class="n" style="margin-left:-5.0px">50%</span></div></div><div class="row" style="top:2290px"><div class="lb">举办招聘会和宣讲会的优质企业众多</div><div class="trk"><div class="fill fl" style="width:91px"></div><div class="bt out" style="left:96px">35%<span class="hy">-</span>40%</div></div><div class="pl"></div></div><div class="sep" style="top:2344px"></div><div class="row" style="top:2346px"><div class="lb">对学生的管理人性化</div><div class="trk"><div class="fill fl" style="width:91px"></div><div class="bt out" style="left:96px">35%<span class="hy">-</span>40%</div></div><div class="pl"></div><div class="tri t50" style="left:881.0px"></div><div class="pt">前<span class="n" style="margin-left:-5.0px">50%</span></div></div><div class="row" style="top:2400px"><div class="lb">学校领导重视学生的意见</div><div class="trk"><div class="fill fm" style="width:144px"></div><div class="bt" style="right:181px">40%<span class="hy">-</span>45%</div></div><div class="pl"></div><div class="tri t50" style="left:881.0px"></div><div class="pt">前<span class="n" style="margin-left:-5.0px">50%</span></div></div><div class="row" style="top:2454px"><div class="lb">辅导员经常关心学生</div><div class="trk"><div class="fill fm" style="width:144px"></div><div class="bt" style="right:181px">40%<span class="hy">-</span>45%</div></div><div class="pl"></div></div><div class="row" style="top:2508px"><div class="lb">行政人员专业尽职</div><div class="trk"><div class="fill fl" style="width:91px"></div><div class="bt out" style="left:96px">35%<span class="hy">-</span>40%</div></div><div class="pl"></div><div class="tri t50" style="left:881.0px"></div><div class="pt">前<span class="n" style="margin-left:-5.0px">50%</span></div></div><div class="row" style="top:2562px"><div class="lb">宿舍管理人员待人亲切</div><div class="trk"><div class="fill fm" style="width:160px"></div><div class="bt" style="right:165px">45%<span class="hy">-</span>50%</div></div><div class="pl"></div></div><div class="row" style="top:2616px"><div class="lb">学校医疗条件和服务满足学生需要</div><div class="trk"><div class="fill fm" style="width:144px"></div><div class="bt" style="right:181px">40%<span class="hy">-</span>45%</div></div><div class="pl"></div><div class="tri t50" style="left:881.0px"></div><div class="pt">前<span class="n" style="margin-left:-5.0px">50%</span></div></div><div class="row" style="top:2670px"><div class="lb">校园环境安全</div><div class="trk"><div class="fill fl" style="width:91px"></div><div class="bt out" style="left:96px">35%<span class="hy">-</span>40%</div></div><div class="pl"></div></div><div class="row" style="top:2724px"><div class="lb">学生需要时能获得心理咨询</div><div class="trk"><div class="fill fm" style="width:144px"></div><div class="bt" style="right:181px">40%<span class="hy">-</span>45%</div></div><div class="pl"></div></div><div class="sep" style="top:2778px"></div><div class="row" style="top:2780px"><div class="lb">对所学专业的兴趣更加浓厚</div><div class="trk"><div class="fill fd" style="width:224px"></div><div class="bt" style="right:101px">65%<span class="hy">-</span>70%</div></div><div class="pl"></div><div class="tri t50" style="left:881.0px"></div><div class="pt">前<span class="n" style="margin-left:-5.0px">50%</span></div></div><div class="row" style="top:2834px"><div class="lb">自主学习能力显著提高</div><div class="trk"><div class="fill fm" style="width:192px"></div><div class="bt" style="right:133px">55%<span class="hy">-</span>60%</div></div><div class="pl"></div><div class="tri t50" style="left:881.0px"></div><div class="pt">前<span class="n" style="margin-left:-5.0px">50%</span></div></div><div class="row" style="top:2888px"><div class="lb">时间管理能力显著提高</div><div class="trk"><div class="fill fd" style="width:240px"></div><div class="bt" style="right:85px">70%<span class="hy">-</span>75%</div></div><div class="pl"></div><div class="tri t10" style="left:928.0px"></div><div class="pt">前<span class="n" style="margin-left:-5.0px">10%</span></div></div><div class="row" style="top:2942px"><div class="lb">解决复杂问题的能力显著提高</div><div class="trk"><div class="fill fd" style="width:208px"></div><div class="bt" style="right:117px">60%<span class="hy">-</span>65%</div></div><div class="pl"></div><div class="tri t50" style="left:881.0px"></div><div class="pt">前<span class="n" style="margin-left:-5.0px">50%</span></div></div><div class="row" style="top:2996px"><div class="lb">与他人合作能力显著提高</div><div class="trk"><div class="fill fd" style="width:208px"></div><div class="bt" style="right:117px">60%<span class="hy">-</span>65%</div></div><div class="pl"></div><div class="tri t50" style="left:881.0px"></div><div class="pt">前<span class="n" style="margin-left:-5.0px">50%</span></div></div><div class="row" style="top:3050px"><div class="lb">组织领导能力显著提高</div><div class="trk"><div class="fill fm" style="width:192px"></div><div class="bt" style="right:133px">55%<span class="hy">-</span>60%</div></div><div class="pl"></div><div class="tri t50" style="left:881.0px"></div><div class="pt">前<span class="n" style="margin-left:-5.0px">50%</span></div></div><div class="row" style="top:3104px"><div class="lb">有更明确的成长规划</div><div class="trk"><div class="fill fd" style="width:224px"></div><div class="bt" style="right:101px">65%<span class="hy">-</span>70%</div></div><div class="pl"></div><div class="tri t50" style="left:881.0px"></div><div class="pt">前<span class="n" style="margin-left:-5.0px">50%</span></div></div><div class="row" style="top:3158px"><div class="lb">您现在对就业充满信心</div><div class="trk"><div class="fill fm" style="width:176px"></div><div class="bt" style="right:149px">50%<span class="hy">-</span>55%</div></div><div class="pl"></div><div class="tri t50" style="left:881.0px"></div><div class="pt">前<span class="n" style="margin-left:-5.0px">50%</span></div></div><div class="row" style="top:3212px"><div class="lb">有更清晰的人生观和价值观</div><div class="trk"><div class="fill fm" style="width:192px"></div><div class="bt" style="right:133px">55%<span class="hy">-</span>60%</div></div><div class="pl"></div></div><div class="sep" style="top:3266px"></div><div class="row" style="top:3268px"><div class="lb">在校学习生活的总体满意度</div><div class="trk"><div class="fill fd" style="width:224px"></div><div class="bt" style="right:101px">65%<span class="hy">-</span>70%</div></div><div class="pl"></div><div class="tri t25" style="left:910.4px"></div><div class="pt">前<span class="n" style="margin-left:-5.0px">25%</span></div></div><div class="row" style="top:3322px"><div class="lb">在校学习生活与预期的差距</div><div class="trk"><div class="fill fm" style="width:176px"></div><div class="bt" style="right:149px">50%<span class="hy">-</span>55%</div></div><div class="pl"></div><div class="tri t25" style="left:910.4px"></div><div class="pt">前<span class="n" style="margin-left:-5.0px">25%</span></div></div><div class="row" style="top:3376px"><div class="lb">对所在的学校发展前景的信心</div><div class="trk"><div class="fill fm" style="width:176px"></div><div class="bt" style="right:149px">50%<span class="hy">-</span>55%</div></div><div class="pl"></div><div class="tri t50" style="left:881.0px"></div><div class="pt">前<span class="n" style="margin-left:-5.0px">50%</span></div></div><div class="row" style="top:3430px"><div class="lb">是否愿意把学校推荐给同龄人</div><div class="trk"><div class="fill fm" style="width:192px"></div><div class="bt" style="right:133px">55%<span class="hy">-</span>60%</div></div><div class="pl"></div><div class="tri t50" style="left:881.0px"></div><div class="pt">前<span class="n" style="margin-left:-5.0px">50%</span></div></div><div class="row" style="top:3484px"><div class="lb">是否愿意再次选择现在的学校</div><div class="trk"><div class="fill fm" style="width:176px"></div><div class="bt" style="right:149px">50%<span class="hy">-</span>55%</div></div><div class="pl"></div><div class="tri t50" style="left:881.0px"></div><div class="pt">前<span class="n" style="margin-left:-5.0px">50%</span></div></div><div class="row" style="top:3538px"><div class="lb">是否愿意向母校捐助</div><div class="trk"><div class="fill fm" style="width:192px"></div><div class="bt" style="right:133px">55%<span class="hy">-</span>60%</div></div><div class="pl"></div><div class="tri t25" style="left:910.4px"></div><div class="pt">前<span class="n" style="margin-left:-5.0px">25%</span></div></div>
</div></body></html>
